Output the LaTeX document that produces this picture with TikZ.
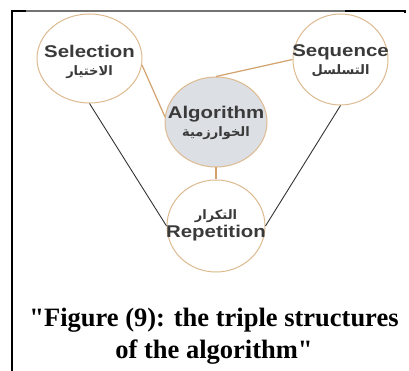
\documentclass[tikz,border=0pt]{standalone}
\usepackage{fontspec}
\usepackage{xcolor}
\usepackage{tikz}
\usetikzlibrary{shapes.geometric}
\TeXXeTstate=1
\newfontfamily\labelfont[FakeStretch=1.2]{Liberation Sans}
\newfontfamily\arabicfont[Script=Arabic]{DejaVu Sans}
\newfontfamily\capfont{Liberation Serif}
\definecolor{ktan}{HTML}{DDBA90}
\definecolor{kline}{HTML}{D2A26E}
\definecolor{kgrey}{HTML}{DCDFE4}
\definecolor{ktext}{HTML}{3A3A3A}

\begin{document}
\begin{tikzpicture}[x=1pt, y=-1pt,
  ring/.style={ellipse, draw=ktan, line width=1pt, fill=white, inner sep=0pt},
  word/.style={align=center, text=ktext, inner sep=0pt,
    font=\labelfont\bfseries\fontsize{17}{19}\selectfont},
  tanlink/.style={draw=kline, line width=1.2pt},
  darklink/.style={draw=black!80, line width=0.9pt}]
\useasboundingbox (0,0) rectangle (409,371);
% frame
\draw[black, line width=2.3pt] (12.2,10) -- (12.2,371);
\draw[black, line width=2pt] (11,11) -- (26,11);
\draw[black!55, line width=1.4pt] (26,11) -- (345,11);
\draw[black, line width=1.6pt] (345,11) -- (405,11) -- (405,13);
% structures
\node[ring, minimum width=105pt, minimum height=89pt] (sel) at (89.5,58.5) {};
\node[ring, minimum width=95pt, minimum height=91pt] (seq) at (340.5,59.5) {};
\node[ring, fill=kgrey, minimum width=102pt, minimum height=90pt] (alg) at (216,122) {};
\node[ring, minimum width=98pt, minimum height=92pt] (rep) at (216,226) {};
\draw[tanlink] (sel.-7) -- (alg.174);
\draw[tanlink] (seq.west) -- (alg.north);
\draw[tanlink] (alg.south) -- (rep.north);
\draw[darklink] (sel.south) -- (rep.west);
\draw[darklink] (seq.south) -- (rep.east);
\node[word] (selText) at (89.5,62) {Selection\\[-1pt]{\arabicfont\fontsize{13}{15}\selectfont\beginR الاختيار\endR}};
\node[word] (seqText) at (340.5,61) {Sequence\\[-1pt]{\arabicfont\fontsize{13}{15}\selectfont\beginR التسلسل\endR}};
\node[word] (algText) at (216,122.5) {Algorithm\\[-1pt]{\arabicfont\fontsize{13}{15}\selectfont\beginR الخوارزمية\endR}};
\node[word] (repText) at (216,225.5) {{\arabicfont\fontsize{13}{15}\selectfont\beginR التكرار\endR}\\[-1pt]Repetition};
% caption
\node[align=center, inner sep=0pt, font=\capfont\bfseries\fontsize{26.5}{32}\selectfont]
  (caption) at (214,336) {"Figure (9): the triple structures\\of the algorithm"};
\end{tikzpicture}
\end{document}
